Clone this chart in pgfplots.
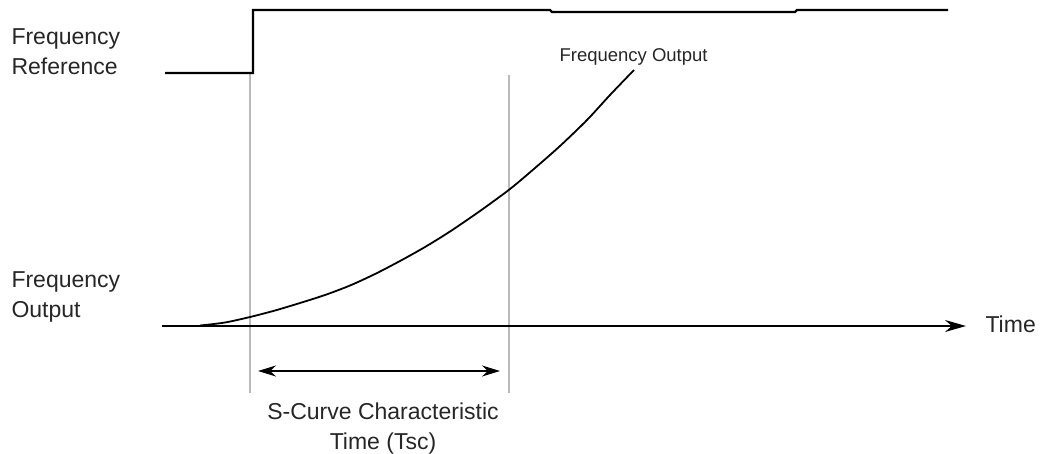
\documentclass[border=0pt]{standalone}
\usepackage{pgfplots}
\pgfplotsset{compat=1.18}
\usepackage{fontspec}
\setmainfont{Liberation Sans}
\usetikzlibrary{arrows.meta}
\begin{document}
\begin{tikzpicture}
\begin{axis}[width=1044pt,height=453pt,scale only axis,
  xmin=0,xmax=1044,ymin=0,ymax=453,y dir=reverse,
  hide axis,clip=false]
% grey vertical markers
\addplot[gray!55,line width=1.8pt] coordinates {(250,73) (250,393)};
\addplot[gray!55,line width=1.8pt] coordinates {(509,75) (509,393)};
% frequency reference step
\addplot[black,line width=2.2pt] coordinates {(165,73) (253,73) (253,10) (550,10) (552,12) (795,12) (797,10) (948,10)};
% time axis
\addplot[black,line width=1.8pt,-{Stealth[length=21pt,width=12pt]}] coordinates {(162,326) (966,326)};
% frequency output curve
\addplot[black,line width=1.8pt,smooth,tension=0.5] coordinates {(200,325.5) (225,322.5) (250,317) (275,310.5) (300,303) (325,295) (350,285.5) (375,274) (400,261) (425,247) (450,231.5) (480,211) (510,189) (535,168) (560,146) (587,120) (610,95) (634,70)};
% characteristic time double arrow
\addplot[black,line width=1.8pt,{Stealth[length=18pt,width=11pt]}-{Stealth[length=18pt,width=11pt]}] coordinates {(258,371) (500,371)};
\begin{scope}[font=\fontsize{23}{30}\selectfont,text=black!85]
\node[anchor=west,align=left] at (axis cs:8,52) {Frequency\\Reference};
\node[anchor=west,align=left] at (axis cs:8,297) {Frequency\\Output};
\node[anchor=west] at (axis cs:982,324) {Time};
\node[align=center] at (axis cs:383,429) {S-Curve Characteristic\\Time (Tsc)};
\node[anchor=west,font=\fontsize{18.5}{20}\selectfont] at (axis cs:556,57) {Frequency Output};
\end{scope}
\end{axis}
\pgfresetboundingbox
\path (current axis.south west) rectangle (current axis.north east);
\end{tikzpicture}
\end{document}
